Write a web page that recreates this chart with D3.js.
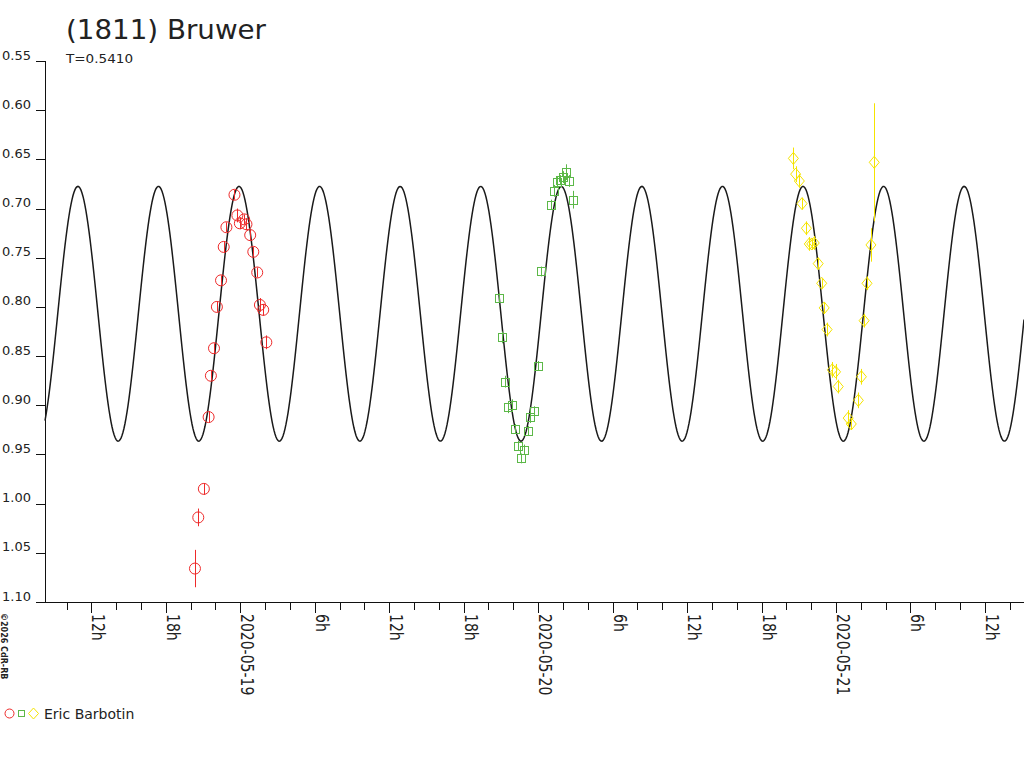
<!DOCTYPE html>
<html>
<head>
<meta charset="utf-8">
<script src="https://cdn.jsdelivr.net/npm/d3@7"></script>
<style>
  body { margin: 0; background: #fff; }
  svg { display: block; }
  text { font-family: "DejaVu Sans", sans-serif; fill: #222; }
</style>
</head>
<body>
<div class="board"></div>
<script>
// (1811) Bruwer - three sessions by Eric Barbotin, magnitudes

var title = "(1811) Bruwer";
var periodLabel = "T=0.5410";
var observer = "Eric Barbotin";

// model curve (two maxima per rotation period)
var rotPeriod = 0.5410;          // days
var curveMean = 0.807;
var curveAmp = 0.1295;
var curveEpoch = "2020-05-18T23:54";

var magTicks = [0.55, 0.60, 0.65, 0.70, 0.75, 0.80, 0.85, 0.90, 0.95, 1.00, 1.05, 1.10];
var timeStart = "2020-05-18T08:16";
var timeEnd = "2020-05-21T15:09";

// session 1 (red circles)
var s1Times = ["2020-05-18T20:21", "2020-05-18T20:37", "2020-05-18T21:04", "2020-05-18T21:27", "2020-05-18T21:38",
  "2020-05-18T21:53", "2020-05-18T22:07", "2020-05-18T22:27", "2020-05-18T22:40", "2020-05-18T22:53",
  "2020-05-18T23:32", "2020-05-18T23:46", "2020-05-18T23:58", "2020-05-19T00:19", "2020-05-19T00:30",
  "2020-05-19T00:48", "2020-05-19T01:03", "2020-05-19T01:22", "2020-05-19T01:35", "2020-05-19T01:51",
  "2020-05-19T02:06"];
var s1Mags = [1.066, 1.014, 0.985, 0.912, 0.870, 0.842, 0.800, 0.773, 0.739, 0.719,
  0.686, 0.707, 0.715, 0.711, 0.716, 0.727, 0.744, 0.765, 0.798, 0.803, 0.836];
var s1Errs = [0.019, 0.009, 0.006, 0.006, 0.005, 0.005, 0.005, 0.005, 0.006, 0.005,
  0.005, 0.007, 0.006, 0.005, 0.006, 0.005, 0.005, 0.005, 0.007, 0.006, 0.007];

// session 2 (green squares)
var s2Times = ["2020-05-19T20:50", "2020-05-19T21:03", "2020-05-19T21:19", "2020-05-19T21:35", "2020-05-19T21:53",
  "2020-05-19T22:06", "2020-05-19T22:22", "2020-05-19T22:36", "2020-05-19T22:54", "2020-05-19T23:10",
  "2020-05-19T23:23", "2020-05-19T23:39", "2020-05-20T00:00", "2020-05-20T00:15", "2020-05-20T01:01",
  "2020-05-20T01:16", "2020-05-20T01:29", "2020-05-20T01:45", "2020-05-20T02:01", "2020-05-20T02:17",
  "2020-05-20T02:30", "2020-05-20T02:48"];
var s2Mags = [0.791, 0.831, 0.876, 0.902, 0.900, 0.924, 0.941, 0.954, 0.945, 0.926, 0.912,
  0.906, 0.860, 0.764, 0.696, 0.682, 0.673, 0.671, 0.668, 0.663, 0.672, 0.691];
var s2Errs = [0.005, 0.006, 0.006, 0.006, 0.006, 0.005, 0.005, 0.005, 0.005, 0.005, 0.006,
  0.005, 0.005, 0.005, 0.005, 0.006, 0.006, 0.005, 0.006, 0.008, 0.006, 0.009];

// session 3 (yellow diamonds)
var s3Times = ["2020-05-20T20:34", "2020-05-20T20:45", "2020-05-20T21:03", "2020-05-20T21:16", "2020-05-20T21:37",
  "2020-05-20T21:51", "2020-05-20T22:03", "2020-05-20T22:15", "2020-05-20T22:34", "2020-05-20T22:51",
  "2020-05-20T23:03", "2020-05-20T23:17", "2020-05-20T23:42", "2020-05-20T23:58", "2020-05-21T00:11",
  "2020-05-21T00:59", "2020-05-21T01:14", "2020-05-21T01:48", "2020-05-21T02:03", "2020-05-21T02:16",
  "2020-05-21T02:30", "2020-05-21T02:49", "2020-05-21T03:05"];
var s3Mags = [0.649, 0.665, 0.672, 0.695, 0.720, 0.736, 0.736, 0.735, 0.756, 0.776, 0.801, 0.823,
  0.864, 0.866, 0.881, 0.913, 0.919, 0.895, 0.871, 0.814, 0.776, 0.737, 0.653];
var s3Errs = [0.011, 0.008, 0.007, 0.006, 0.007, 0.007, 0.006, 0.007, 0.006, 0.005, 0.006, 0.007,
  0.008, 0.008, 0.007, 0.008, 0.006, 0.008, 0.008, 0.007, 0.007, 0.017, 0.060];

var colors = { red: "#ee2a2a", green: "#5cb848", yellow: "#f5e400" };

var parse = d3.utcParse("%Y-%m-%dT%H:%M");

var svg = d3.select(".board").append("svg")
  .attr("width", 1024)
  .attr("height", 768);

var x = d3.scaleUtc()
  .domain([parse(timeStart), parse(timeEnd)])
  .range([45, 1024]);

var y = d3.scaleLinear()
  .domain([magTicks[0], magTicks[magTicks.length - 1]])
  .range([61, 602]);

// title
svg.append("text").attr("x", 66).attr("y", 39)
  .attr("font-size", 27)
  .attr("textLength", 200).attr("lengthAdjust", "spacingAndGlyphs")
  .text(title);
svg.append("text").attr("x", 66).attr("y", 63)
  .attr("font-size", 13)
  .attr("textLength", 67).attr("lengthAdjust", "spacingAndGlyphs")
  .text(periodLabel);

// y axis
var axes = svg.append("g").attr("stroke", "#111").attr("shape-rendering", "crispEdges");
axes.append("line").attr("x1", 45.5).attr("x2", 45.5).attr("y1", y(magTicks[0])).attr("y2", 602.5);
axes.selectAll(".ytick").data(magTicks).enter().append("line")
  .attr("class", "ytick")
  .attr("x1", 36).attr("x2", 45.5)
  .attr("y1", function(d) { return Math.round(y(d)) + 0.5; })
  .attr("y2", function(d) { return Math.round(y(d)) + 0.5; });
svg.selectAll(".ylab").data(magTicks).enter().append("text")
  .attr("class", "ylab")
  .attr("x", 31)
  .attr("y", function(d) { return y(d) - 1.5; })
  .attr("text-anchor", "end")
  .attr("font-size", 13)
  .text(function(d) { return d.toFixed(2); });

// x axis
axes.append("line").attr("x1", 36).attr("x2", 1024).attr("y1", 602.5).attr("y2", 602.5);
var hourTicks = d3.utcHour.every(2).range(x.domain()[0], x.domain()[1]);
axes.selectAll(".xtick").data(hourTicks).enter().append("line")
  .attr("class", "xtick")
  .attr("x1", function(d) { return Math.round(x(d)) + 0.5; })
  .attr("x2", function(d) { return Math.round(x(d)) + 0.5; })
  .attr("y1", 602.5)
  .attr("y2", function(d) { return d.getUTCHours() % 6 == 0 ? 613 : 610; });

var fmtDay = d3.utcFormat("%Y-%m-%d");
svg.selectAll(".xlab").data(hourTicks.filter(function(d) { return d.getUTCHours() % 6 == 0; }))
  .enter().append("text")
  .attr("class", "xlab")
  .attr("transform", function(d) { return "translate(" + (Math.round(x(d)) + 1) + ",614) rotate(90) scale(1,1.3)"; })
  .attr("font-size", 14)
  .text(function(d) {
    var h = d.getUTCHours();
    return h == 0 ? fmtDay(d) : h + "h";
  });

// copyright
svg.append("text").attr("transform", "translate(1,613) rotate(90)")
  .attr("font-size", 8).attr("font-weight", "bold").text("\u00a92026 CdR-RB");

// model curve
var epoch = parse(curveEpoch);
var half = rotPeriod / 2 * 86400000;
var curveLine = d3.line()
  .x(function(d) { return d; })
  .y(function(d) {
    var t = x.invert(d);
    return y(curveMean - curveAmp * Math.cos(2 * Math.PI * (t - epoch) / half));
  });
svg.append("path")
  .datum(d3.range(45, 1024.5, 1))
  .attr("d", curveLine)
  .attr("fill", "none")
  .attr("stroke", "#1a1a1a")
  .attr("stroke-width", 1.5);

function sessionData(times, mags, errs) {
  return times.map(function(t, i) { return { t: parse(t), m: mags[i], e: errs[i] }; });
}

function drawErrors(g, data, color) {
  g.selectAll(".err").data(data).enter().append("line")
    .attr("class", "err")
    .attr("x1", function(d) { return Math.round(x(d.t)) + 0.5; })
    .attr("x2", function(d) { return Math.round(x(d.t)) + 0.5; })
    .attr("y1", function(d) { return y(d.m - d.e); })
    .attr("y2", function(d) { return y(d.m + d.e); })
    .attr("stroke", color);
}

var s1 = sessionData(s1Times, s1Mags, s1Errs);
var s2 = sessionData(s2Times, s2Mags, s2Errs);
var s3 = sessionData(s3Times, s3Mags, s3Errs);

var g1 = svg.append("g");
drawErrors(g1, s1, colors.red);
g1.selectAll("circle").data(s1).enter().append("circle")
  .attr("cx", function(d) { return x(d.t); })
  .attr("cy", function(d) { return y(d.m); })
  .attr("r", 5.5)
  .attr("fill", "none")
  .attr("stroke", colors.red);

var g2 = svg.append("g");
drawErrors(g2, s2, colors.green);
g2.selectAll("rect").data(s2).enter().append("rect")
  .attr("x", function(d) { return Math.round(x(d.t)) - 3.5; })
  .attr("y", function(d) { return Math.round(y(d.m)) - 3.5; })
  .attr("width", 8).attr("height", 8)
  .attr("fill", "none")
  .attr("stroke", colors.green);

var g3 = svg.append("g");
drawErrors(g3, s3, colors.yellow);
g3.selectAll("path").data(s3).enter().append("path")
  .attr("d", function(d) {
    var cx = x(d.t), cy = y(d.m);
    return "M" + cx + "," + (cy - 6) + "L" + (cx + 5) + "," + cy + "L" + cx + "," + (cy + 6) + "L" + (cx - 5) + "," + cy + "Z";
  })
  .attr("fill", "none")
  .attr("stroke", colors.yellow);

// legend
var leg = svg.append("g");
leg.append("circle").attr("cx", 9.5).attr("cy", 713.5).attr("r", 4.5)
  .attr("fill", "none").attr("stroke", colors.red);
leg.append("rect").attr("x", 18.5).attr("y", 710.5).attr("width", 6).attr("height", 6)
  .attr("fill", "none").attr("stroke", colors.green);
leg.append("path").attr("d", "M33.5,708L38.5,713.5L33.5,719L28.5,713.5Z")
  .attr("fill", "none").attr("stroke", colors.yellow);
leg.append("text").attr("x", 44).attr("y", 718.5).attr("font-size", 14).text(observer);
</script>
</body>
</html>
